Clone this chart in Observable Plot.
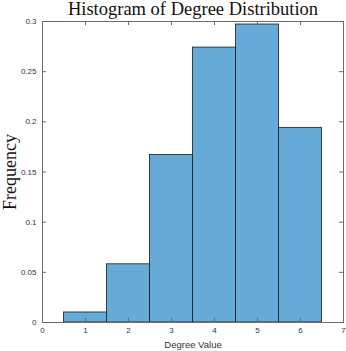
<!DOCTYPE html>
<html>
<head>
<meta charset="utf-8">
<script src="https://cdn.jsdelivr.net/npm/d3@7"></script>
<script src="https://cdn.jsdelivr.net/npm/@observablehq/plot@0.6"></script>
<style>
  html, body { margin: 0; padding: 0; background: #fff; }
  svg { display: block; }
</style>
</head>
<body>
<div id="chart"></div>
<script>
const degrees = [1, 2, 3, 4, 5, 6];
const frequencies = [0.010, 0.058, 0.167, 0.274, 0.297, 0.194];
const xTicks = [0, 1, 2, 3, 4, 5, 6, 7];
const yTicks = [0, 0.05, 0.1, 0.15, 0.2, 0.25, 0.3];
const yTickLabels = ["0", "0.05", "0.1", "0.15", "0.2", "0.25", "0.3"];
const titleText = "Histogram of Degree Distribution";
const xLabel = "Degree Value";
const yLabel = "Frequency";

const bins = degrees.map((d, i) => ({x1: d - 0.5, x2: d + 0.5, y: frequencies[i]}));

const axisColor = "#333";
const plotW = 301, plotH = 301;

const chart = Plot.plot({
  width: 346,
  height: 351,
  marginLeft: 42,
  marginRight: 3,
  marginTop: 21,
  marginBottom: 29,
  x: {domain: [0, 7]},
  y: {domain: [0, 0.3]},
  style: {fontFamily: "Liberation Sans, Arial, sans-serif", color: axisColor, background: "#fff"},
  marks: [
    Plot.rectY(bins, {x1: "x1", x2: "x2", y: "y", fill: "rgb(102,170,215)", stroke: "#1a1a1a", strokeWidth: 0.8}),
    Plot.frame({stroke: "#6b6b6b", strokeWidth: 1}),
    // inward ticks
    Plot.tickX(xTicks.slice(1, -1), {x: d => d, insetTop: plotH - 4, stroke: "#6b6b6b"}),
    Plot.tickX(xTicks.slice(1, -1), {x: d => d, insetBottom: plotH - 4, stroke: "#6b6b6b"}),
    Plot.tickY(yTicks.slice(1, -1), {y: d => d, insetRight: plotW - 4, stroke: "#6b6b6b"}),
    Plot.tickY(yTicks.slice(1, -1), {y: d => d, insetLeft: plotW - 4, stroke: "#6b6b6b"}),
    Plot.axisX(xTicks, {tickSize: 0, tickPadding: 5, fontSize: 8, fill: axisColor, label: null}),
    Plot.axisY(yTicks, {tickSize: 0, tickPadding: 6, fontSize: 8, fill: axisColor, label: null,
      tickFormat: (d) => yTickLabels[yTicks.indexOf(d)]}),
    Plot.text([xLabel], {frameAnchor: "bottom", dy: 22, lineAnchor: "middle", fontSize: 9.5, fill: axisColor}),
    Plot.text([yLabel], {frameAnchor: "left", dx: -32, rotate: -90, textAnchor: "middle", lineAnchor: "middle",
      fontSize: 18, fill: "#111", fontFamily: "Liberation Serif, serif"}),
    Plot.text([titleText], {frameAnchor: "top", dy: -12, lineAnchor: "middle", fontSize: 18.5, fill: "#111",
      fontFamily: "Liberation Serif, serif"})
  ]
});
document.getElementById("chart").appendChild(chart);
</script>
</body>
</html>
